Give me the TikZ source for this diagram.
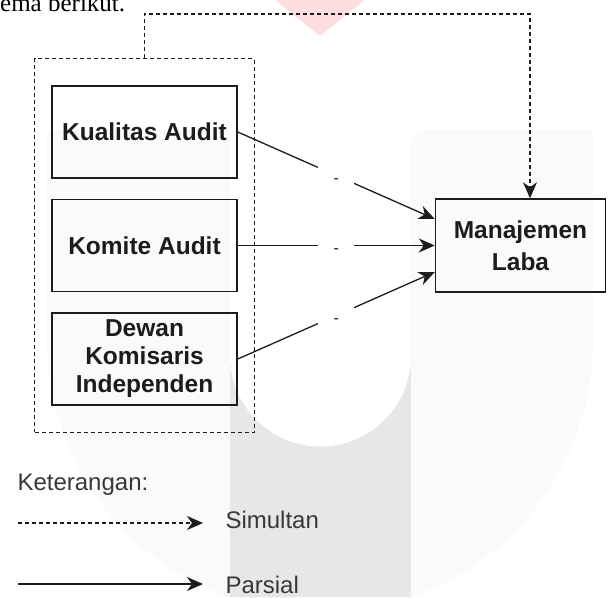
\documentclass[tikz,border=0pt]{standalone}
\usepackage{fontspec}
\setmainfont{Liberation Sans}
\newfontfamily\seriffont{Liberation Serif}
\usetikzlibrary{positioning,fit,arrows.meta}
\definecolor{ink}{HTML}{1C1C1C}
\definecolor{legink}{HTML}{383838}
\definecolor{wmlight}{HTML}{FAFAFA}
\definecolor{wmgray}{HTML}{E7E7EA}
\definecolor{wmpink}{HTML}{FDDDE0}

\begin{document}
\begin{tikzpicture}[x=1pt,y=-1pt,
  varbox/.style={draw=ink,line width=1.5pt,minimum width=185pt,minimum height=92pt,
    inner sep=0pt,align=center,text=ink,font=\fontsize{24.5}{28}\selectfont\bfseries},
  groupbox/.style={draw=ink,line width=1.2pt,dash pattern=on 4pt off 3pt},
  parsial/.style={draw=ink,line width=1.3pt,-{Stealth[length=16pt,width=14pt,inset=5pt]}},
  simultan/.style={parsial,dash pattern=on 4pt off 3pt,line width=1.2pt},
  gaplbl/.style={fill=white,inner sep=0pt,minimum width=36pt,minimum height=18pt,
    text=ink,font=\fontsize{16}{18}\selectfont},
  legtext/.style={anchor=base west,text=legink,font=\fontsize{24}{28}\selectfont}]
\useasboundingbox (0,0) rectangle (610,597);

% watermark in the background
\fill[wmlight] (47,340) -- (47,130) -- (202,130) .. controls (230,130) .. (230,158) -- (230,340) -- cycle;
\fill[wmlight] (593,340) -- (593,130) -- (439,130) .. controls (411,130) .. (411,158) -- (411,340) -- cycle;
\fill[wmlight] (47,340) arc[start angle=180,end angle=360,radius=273pt] -- cycle;
\fill[wmlight] (229,339) rectangle (412,356);
\fill[wmgray] (230,356) rectangle (411,597);
\fill[white] (320.5,356) circle[radius=90.5pt];
\fill[white] (230,335) rectangle (411,356);
\fill[wmpink] (268,-6) -- (372,-6) -- (320,36) -- cycle;

% line of text above the figure
\node[anchor=base west,inner sep=0pt,font=\seriffont\fontsize{25}{28}\selectfont] (caption) at (0,11.5) {ema berikut.};

% variables
\node[varbox] (kualitas) at (144.5,132) {Kualitas Audit};
\node[varbox,below=20pt of kualitas] (komite) {Komite Audit};
\node[varbox,below=20pt of komite] (dewan) {Dewan\\Komisaris\\Independen};
\node[varbox,minimum width=170pt,minimum height=93pt,right=197pt of komite,
  font=\fontsize{24.5}{32}\selectfont\bfseries] (laba) {Manajemen\\Laba};
\node[groupbox,fit=(kualitas)(komite)(dewan),inner xsep=16.5pt,inner ysep=26.5pt] (group) {};

% partial effects
\draw[parsial] (kualitas.east) -- node[gaplbl] {\smash{\raisebox{-8pt}{-}}} ([yshift=26.5pt]laba.west);
\draw[parsial] (komite.east) -- node[gaplbl] {\smash{\raisebox{-8pt}{-}}} (komite.east -| laba.west);
\draw[parsial] (dewan.east) -- node[gaplbl] {\smash{\raisebox{-8pt}{-}}} ([yshift=-26.5pt]laba.west);

% simultaneous effect
\coordinate (simtop) at (530,14);
\draw[simultan] (group.north) |- (simtop) -- (simtop |- laba.north);

% legend
\node[legtext] (ket) at (14,490) {Keterangan:};
\coordinate (simA) at (18,523);
\coordinate (simB) at (203,523);
\draw[simultan] (simA) -- (simB);
\node[legtext] (simlbl) at (222,528) {Simultan};
\coordinate (parA) at (18,584);
\coordinate (parB) at (203,584);
\draw[parsial] (parA) -- (parB);
\node[legtext] (parlbl) at (222,593) {Parsial};
\end{tikzpicture}
\end{document}
